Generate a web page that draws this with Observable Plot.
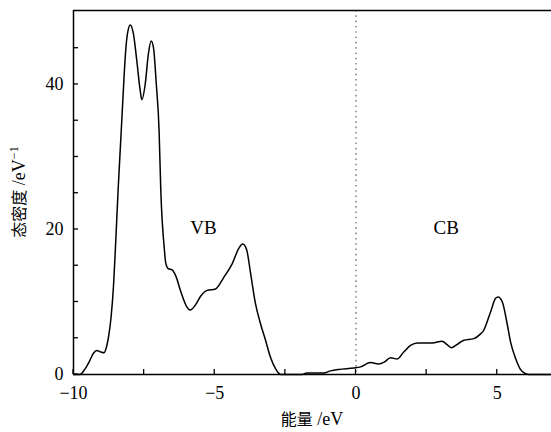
<!DOCTYPE html>
<html><head><meta charset="utf-8">
<script src="https://cdn.jsdelivr.net/npm/d3@7"></script>
<script src="https://cdn.jsdelivr.net/npm/@observablehq/plot@0.6"></script>
<style>body{margin:0;background:#fff} svg{display:block}</style>
</head><body><div id="chart"></div>
<script>
// Energy (eV) and density of states (1/eV)
const energy = [-10,-9.78,-9.6,-9.45,-9.3,-9.17,-9.03,-8.92,-8.82,-8.76,-8.67,-8.58,-8.52,-8.42,-8.31,-8.23,-8.17,-8.09,-7.99,-7.88,-7.76,-7.64,-7.58,-7.46,-7.35,-7.25,-7.17,-7.07,-6.97,-6.91,-6.78,-6.74,-6.65,-6.5,-6.38,-6.2,-6.0,-5.87,-5.7,-5.5,-5.27,-4.97,-4.68,-4.38,-4.15,-4.01,-3.87,-3.73,-3.56,-3.38,-3.2,-3.03,-2.85,-2.67,-1.9,-1.75,-1.15,-0.9,-0.61,-0.08,0.16,0.51,0.8,1.0,1.22,1.46,1.69,1.93,2.17,2.7,3.05,3.2,3.38,3.6,3.8,4.17,4.41,4.52,4.76,4.94,5.03,5.18,5.35,5.47,5.65,5.82,6.0,6.12,6.92];
const dos    = [0,0,0.7,1.7,2.9,3.3,3.1,3.0,4.0,5.2,7.9,12.5,17.1,25.5,33.6,39.6,43.7,47,48.2,47,43.3,39.2,37.9,40.1,44.2,46.0,45.1,40.1,33.6,25.4,17.1,15.5,14.6,14.4,13.6,11.4,9.4,8.9,9.5,10.8,11.6,11.8,13.4,15.3,17.4,18.0,17.2,13.9,9.8,7.0,4.7,2.4,0.8,0,0,0.2,0.2,0.5,0.7,0.9,1.05,1.65,1.45,1.7,2.3,2.15,3.1,4.0,4.35,4.35,4.6,4.2,3.7,4.2,4.7,4.95,5.6,6.1,8.6,10.5,10.7,10.0,7.0,4.5,2.2,0.7,0.1,0,0];

const xTicks = [-10,-7.5,-5,-2.5,0,2.5,5];
const xTickLabels = [-10,-5,0,5];
const yTicks = [0,5,10,15,20,25,30,35,40,45];
const yTickLabels = [0,20,40];
const xDomain = [-10, 6.92];
const yDomain = [0, 50.2];
const bandNames = ["VB","CB"];
const bandX = [-5.4, 3.19];
const bandY = [20.2, 20.2];
const fermiLevel = [0];

const SERIF = "Liberation Serif, DejaVu Serif, serif";
const CJK = "Noto Sans CJK SC, sans-serif";
const TICK = 5;

const data = energy.map((e,i)=>({e, d: dos[i]}));
const bands = bandNames.map((n,i)=>({n, x: bandX[i], y: bandY[i]}));

const plot = Plot.plot({
  width: 551, height: 432,
  marginLeft: 73, marginRight: 0, marginTop: 10, marginBottom: 58,
  style: {fontFamily: SERIF, fontSize: "18px", background: "#fff", color: "#000"},
  x: {domain: xDomain, label: null, axis: null},
  y: {domain: yDomain, label: null, axis: null},
  marks: [
    Plot.ruleX(fermiLevel, {stroke: "#666", strokeWidth: 1.2, strokeDasharray: "1.6,3.7"}),
    Plot.line(data, {x: "e", y: "d", curve: "monotone-x", stroke: "#000", strokeWidth: 1.5}),
    // frame lines
    Plot.ruleX([xDomain[0]], {stroke: "#000", strokeWidth: 1.5}),
    Plot.ruleY([yDomain[0]], {stroke: "#000", strokeWidth: 1.5}),
    Plot.ruleY([yDomain[1]], {stroke: "#000", strokeWidth: 1.5}),
    // tick labels
    Plot.axisX(xTickLabels, {tickSize: 0, tickPadding: 12, fontFamily: SERIF, fontSize: 18,
      tickFormat: d => d < 0 ? "\u2212" + Math.abs(d) : String(d)}),
    Plot.axisY(yTickLabels, {tickSize: 0, tickPadding: 10, fontFamily: SERIF, fontSize: 18}),
    Plot.text(bands, {x: "x", y: "y", text: "n", fontSize: 19, fontFamily: SERIF, fill: "#000"})
  ]
});

const svg = d3.select(plot);
const sx = plot.scale("x"), sy = plot.scale("y");
const y0 = sy.apply(yDomain[0]), x0 = sx.apply(xDomain[0]);
// inward ticks, positioned through Plot's own scales
const tg = svg.append("g").attr("stroke", "#000").attr("stroke-width", 1.3);
xTicks.forEach(v => {
  const px = sx.apply(v);
  tg.append("line").attr("x1", px).attr("x2", px).attr("y1", y0).attr("y2", y0 - TICK);
});
yTicks.forEach(v => {
  const py = sy.apply(v);
  tg.append("line").attr("x1", x0).attr("x2", x0 + TICK).attr("y1", py).attr("y2", py);
});
// x-axis title
const xt = svg.append("text")
  .attr("x", 312).attr("y", 425)
  .attr("text-anchor", "middle").attr("fill", "#000");
xt.append("tspan").attr("font-family", CJK).attr("font-size", "16px").text("能量");
xt.append("tspan").attr("font-family", SERIF).attr("font-size", "18px").text(" /eV");
// y-axis title
const yt = svg.append("text")
  .attr("transform", "translate(25,192) rotate(-90)")
  .attr("text-anchor", "middle").attr("fill", "#000");
yt.append("tspan").attr("font-family", CJK).attr("font-size", "16px").text("态密度");
yt.append("tspan").attr("font-family", SERIF).attr("font-size", "18px").text(" /eV");
yt.append("tspan").attr("font-family", SERIF).attr("font-size", "12px").attr("dy", "-7").text("\u22121");

document.getElementById("chart").appendChild(plot);
</script>
</body></html>
